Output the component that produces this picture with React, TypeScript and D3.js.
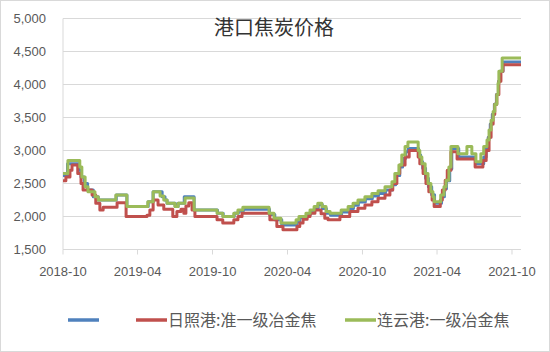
import * as d3 from "d3";

const title = "港口焦炭价格";
const seriesNames = ["", "日照港:准一级冶金焦", "连云港:一级冶金焦"];
const seriesColors = ["#4f81bd", "#c0504d", "#9bbb59"];
const xTickLabels = ["2018-10", "2019-04", "2019-10", "2020-04", "2020-10", "2021-04", "2021-10"];
const yTicks = [1500, 2000, 2500, 3000, 3500, 4000, 4500, 5000];

// price changes (date the new price starts, price)
const blueSteps: [string, number][] = [
  ["2018-10-01", 2620], ["2018-10-12", 2800], ["2018-11-09", 2700], ["2018-11-14", 2600],
  ["2018-11-22", 2500], ["2018-11-30", 2400], ["2018-12-14", 2300], ["2018-12-26", 2250],
  ["2019-02-08", 2325], ["2019-03-06", 2150], ["2019-04-27", 2225], ["2019-05-09", 2375],
  ["2019-05-31", 2300], ["2019-06-07", 2250], ["2019-06-12", 2200], ["2019-07-02", 2150],
  ["2019-07-09", 2200], ["2019-07-24", 2300], ["2019-08-17", 2100], ["2019-10-13", 2050],
  ["2019-10-27", 2000], ["2019-11-23", 2050], ["2019-12-03", 2080], ["2019-12-15", 2110],
  ["2020-02-17", 2030], ["2020-03-01", 1950], ["2020-03-18", 1870], ["2020-04-24", 1920],
  ["2020-05-01", 1980], ["2020-05-18", 2030], ["2020-05-27", 2080], ["2020-06-06", 2130],
  ["2020-06-15", 2180], ["2020-06-25", 2120], ["2020-07-05", 2050], ["2020-07-15", 2020],
  ["2020-08-11", 2070], ["2020-08-28", 2120], ["2020-09-09", 2170], ["2020-09-21", 2220],
  ["2020-10-08", 2270], ["2020-10-25", 2310], ["2020-11-09", 2350], ["2020-11-26", 2400],
  ["2020-12-13", 2480], ["2020-12-21", 2620], ["2020-12-31", 2750], ["2021-01-07", 2880],
  ["2021-01-14", 2980], ["2021-01-21", 3030], ["2021-02-15", 2930], ["2021-02-20", 2830],
  ["2021-02-25", 2730], ["2021-03-04", 2580], ["2021-03-11", 2450], ["2021-03-19", 2330],
  ["2021-03-26", 2200], ["2021-04-12", 2300], ["2021-04-19", 2420], ["2021-04-24", 2540],
  ["2021-05-02", 2720], ["2021-05-07", 3030], ["2021-05-24", 2900], ["2021-07-04", 2800],
  ["2021-07-24", 2900], ["2021-07-30", 3030], ["2021-08-04", 3200], ["2021-08-09", 3400],
  ["2021-08-14", 3550], ["2021-08-19", 3700], ["2021-08-24", 3850], ["2021-08-29", 4050],
  ["2021-09-01", 4200], ["2021-09-09", 4340],
];

const redSteps: [string, number][] = [
  ["2018-10-01", 2540], ["2018-10-08", 2600], ["2018-10-18", 2700], ["2018-10-23", 2780],
  ["2018-11-06", 2650], ["2018-11-14", 2500], ["2018-11-19", 2400], ["2018-12-11", 2325],
  ["2018-12-20", 2200], ["2018-12-30", 2100], ["2019-01-07", 2140], ["2019-02-10", 2210],
  ["2019-03-04", 2000], ["2019-04-24", 2020], ["2019-05-01", 2100], ["2019-05-09", 2250],
  ["2019-05-21", 2175], ["2019-06-04", 2110], ["2019-06-26", 2000], ["2019-07-06", 2075],
  ["2019-07-16", 2110], ["2019-07-23", 2050], ["2019-07-28", 2160], ["2019-08-04", 2210],
  ["2019-08-12", 2100], ["2019-08-19", 2000], ["2019-10-12", 1950], ["2019-10-26", 1900],
  ["2019-11-22", 1950], ["2019-12-02", 2000], ["2019-12-12", 2050], ["2020-02-18", 1950],
  ["2020-03-06", 1850], ["2020-03-21", 1800], ["2020-04-24", 1850], ["2020-05-01", 1900],
  ["2020-05-09", 1960], ["2020-05-19", 2000], ["2020-05-26", 2050], ["2020-06-07", 2100],
  ["2020-06-22", 2040], ["2020-07-01", 1975], ["2020-07-09", 1950], ["2020-08-07", 2000],
  ["2020-08-31", 2075], ["2020-09-20", 2125], ["2020-10-07", 2175], ["2020-10-24", 2225],
  ["2020-11-08", 2275], ["2020-11-25", 2325], ["2020-12-07", 2400], ["2020-12-14", 2500],
  ["2020-12-24", 2650], ["2020-12-31", 2780], ["2021-01-13", 2900], ["2021-01-23", 3000],
  ["2021-02-14", 2900], ["2021-02-18", 2800], ["2021-02-26", 2650], ["2021-03-05", 2500],
  ["2021-03-12", 2375], ["2021-03-20", 2250], ["2021-03-25", 2150], ["2021-04-09", 2250],
  ["2021-04-14", 2400], ["2021-04-21", 2550], ["2021-04-26", 2700], ["2021-05-05", 2980],
  ["2021-05-20", 2870], ["2021-07-03", 2750], ["2021-07-22", 2850], ["2021-07-30", 3000],
  ["2021-08-06", 3200], ["2021-08-11", 3400], ["2021-08-16", 3550], ["2021-08-20", 3700],
  ["2021-08-25", 3850], ["2021-08-30", 4050], ["2021-09-04", 4200], ["2021-09-09", 4300],
];

const greenSteps: [string, number][] = [
  ["2018-10-01", 2650], ["2018-10-13", 2850], ["2018-11-11", 2750], ["2018-11-16", 2600],
  ["2018-11-24", 2450], ["2018-12-01", 2375], ["2018-12-18", 2300], ["2018-12-26", 2250],
  ["2019-02-07", 2325], ["2019-03-06", 2150], ["2019-04-26", 2225], ["2019-05-09", 2375],
  ["2019-05-26", 2310], ["2019-06-04", 2250], ["2019-06-12", 2200], ["2019-07-01", 2150],
  ["2019-07-09", 2200], ["2019-07-26", 2280], ["2019-08-17", 2100], ["2019-10-12", 2050],
  ["2019-10-26", 2000], ["2019-11-22", 2050], ["2019-12-02", 2100], ["2019-12-14", 2140],
  ["2020-02-16", 2050], ["2020-02-28", 1975], ["2020-03-16", 1900], ["2020-04-22", 1950],
  ["2020-04-29", 2000], ["2020-05-16", 2050], ["2020-05-26", 2100], ["2020-06-05", 2150],
  ["2020-06-14", 2200], ["2020-06-24", 2150], ["2020-07-04", 2075], ["2020-07-14", 2050],
  ["2020-08-10", 2100], ["2020-08-27", 2150], ["2020-09-08", 2200], ["2020-09-20", 2250],
  ["2020-10-07", 2300], ["2020-10-24", 2350], ["2020-11-08", 2390], ["2020-11-25", 2450],
  ["2020-12-12", 2525], ["2020-12-19", 2650], ["2020-12-29", 2780], ["2021-01-05", 2930],
  ["2021-01-13", 3060], ["2021-01-20", 3130], ["2021-02-14", 3000], ["2021-02-18", 2900],
  ["2021-02-23", 2800], ["2021-03-03", 2650], ["2021-03-10", 2500], ["2021-03-17", 2375],
  ["2021-03-22", 2300], ["2021-03-25", 2225], ["2021-04-10", 2325], ["2021-04-18", 2450],
  ["2021-04-23", 2550], ["2021-04-30", 2750], ["2021-05-05", 3060], ["2021-05-22", 2950],
  ["2021-06-13", 3060], ["2021-06-25", 2950], ["2021-07-05", 2830], ["2021-07-17", 2950],
  ["2021-07-24", 3060], ["2021-08-01", 3160], ["2021-08-06", 3310], ["2021-08-11", 3460],
  ["2021-08-16", 3590], ["2021-08-20", 3700], ["2021-08-25", 3850], ["2021-08-28", 4020],
  ["2021-08-30", 4200], ["2021-09-07", 4400],
];

const allSteps = [blueSteps, redSteps, greenSteps];

const W = 550, H = 352;
const m = { top: 18.5, right: 29, bottom: 102.5, left: 63 };
const parse = d3.timeParse("%Y-%m-%d");
const tickFmt = d3.timeFormat("%Y-%m");

export default function App() {
  const start = parse("2018-10-01")!;
  const end = parse("2021-10-23")!;
  const x = d3.scaleTime().domain([start, end]).range([m.left, W - m.right]);
  const y = d3.scaleLinear().domain([1500, 5000]).range([H - m.bottom, m.top]);
  const xTicks = xTickLabels.map(s => parse(s + "-01")!);

  const line = d3.line<[Date, number]>()
    .x(d => x(d[0])).y(d => y(d[1]))
    .curve(d3.curveStepAfter);

  const paths = allSteps.map(steps => {
    const pts: [Date, number][] = steps.map(([d, v]) => [parse(d)!, v]);
    pts.push([end, steps[steps.length - 1][1]]);
    return line(pts) ?? "";
  });

  const x0 = x.range()[0], x1 = x.range()[1];
  const yb = y(1500);
  const txt = "#595959";
  const font = "'Liberation Sans', Arial, sans-serif";
  const cjk = "'Noto Sans CJK SC', sans-serif";

  // legend layout
  const legend = [
    { lx: 68, tx: 0 },
    { lx: 136, tx: 168 },
    { lx: 345, tx: 377 },
  ];

  return (
    <svg width={W} height={H} style={{ position: "absolute", left: 0, top: 0, background: "#fff" }}>
      <rect x={0.5} y={0.5} width={W - 1} height={H - 1} fill="#fff" stroke="#d9d9d9" />

      {/* gridlines */}
      {yTicks.map(t => (
        <line key={t} x1={x0} x2={x1} y1={y(t)} y2={y(t)} stroke="#d9d9d9" strokeWidth={1} />
      ))}
      <line x1={x0} x2={x0} y1={y(5000)} y2={yb} stroke="#d9d9d9" />
      {xTicks.map((t, i) => (
        <line key={i} x1={x(t)} x2={x(t)} y1={yb} y2={yb + 5} stroke="#d9d9d9" />
      ))}

      {/* y labels */}
      {yTicks.map(t => (
        <text key={t} x={46} y={y(t)} dy="0.35em" textAnchor="end"
          fontFamily={font} fontSize={13} fill={txt}>
          {d3.format(",")(t)}
        </text>
      ))}

      {/* x labels */}
      {xTicks.map((t, i) => (
        <text key={i} x={x(t)} y={271} dy="0.35em" textAnchor="middle"
          fontFamily={font} fontSize={13} fill={txt}>
          {tickFmt(t)}
        </text>
      ))}

      {/* series */}
      {paths.map((p, i) => (
        <path key={i} d={p} fill="none" stroke={seriesColors[i]} strokeWidth={3}
          strokeLinejoin="round" />
      ))}

      <text x={274} y={28} dy="0.35em" textAnchor="middle" fontFamily={cjk}
        fontSize={20} fill="#333">{title}</text>

      {/* legend */}
      {legend.map((l, i) => (
        <g key={i}>
          <line x1={l.lx} x2={l.lx + 31} y1={320} y2={320} stroke={seriesColors[i]} strokeWidth={3.5} />
          {seriesNames[i] && (
            <text x={l.tx} y={320} dy="0.35em" fontFamily={cjk} fontSize={16} fill={txt}>
              {seriesNames[i]}
            </text>
          )}
        </g>
      ))}
    </svg>
  );
}
